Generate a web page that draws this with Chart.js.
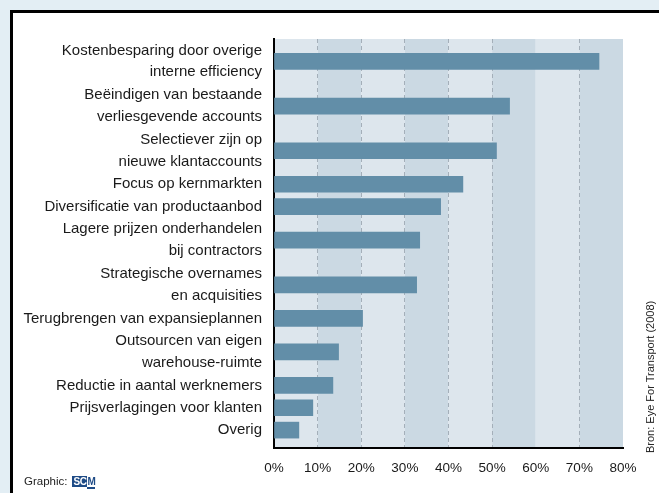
<!DOCTYPE html>
<html>
<head>
<meta charset="utf-8">
<script src="https://cdn.jsdelivr.net/npm/chart.js@4/dist/chart.umd.min.js"></script>
<style>
  body { margin: 0; width: 659px; height: 493px; overflow: hidden; position: relative; background: #e3eef4; }
  #frame { position: absolute; left: 10px; top: 10px; width: 700px; height: 520px; background: #fff;
           border-top: 3px solid #000; border-left: 3px solid #000; }
  #chart { position: absolute; left: 0; top: 0; }
  #graphic { position: absolute; left: 24px; top: 475px; font: 11.5px "Liberation Sans", sans-serif; color: #222; }
  #graphic .logo { display: inline-block; margin-left: 5px; font-weight: bold; font-size: 10px; line-height: 10px; letter-spacing: -0.5px; }
  #graphic .sc { background: #1e4b86; color: #fff; padding: 0 1px; }
  #graphic .m { color: #1e4b86; border-bottom: 2px solid #1e4b86; }
  #source { position: absolute; left: 643px; top: 453px; transform-origin: 0 0; transform: rotate(-90deg);
            white-space: nowrap; font: 11px "Liberation Sans", sans-serif; color: #222; line-height: 14px; }
</style>
</head>
<body>
<div id="frame"></div>
<canvas id="chart" width="659" height="493"></canvas>
<div id="graphic">Graphic:<span class="logo"><span class="sc">SC</span><span class="m">M</span></span></div>
<div id="source">Bron: Eye For Transport (2008)</div>
<script>
// categories, top to bottom (multi-line labels as arrays)
var categories = [
    ["Kostenbesparing door overige", "interne efficiency"],
    ["Beëindigen van bestaande", "verliesgevende accounts"],
    ["Selectiever zijn op", "nieuwe klantaccounts"],
    "Focus op kernmarkten",
    "Diversificatie van productaanbod",
    ["Lagere prijzen onderhandelen", "bij contractors"],
    ["Strategische overnames", "en acquisities"],
    "Terugbrengen van expansieplannen",
    ["Outsourcen van eigen", "warehouse-ruimte"],
    "Reductie in aantal werknemers",
    "Prijsverlagingen voor klanten",
    "Overig"
];
var percentages = [74.5, 54, 51, 43.3, 38.2, 33.4, 32.7, 20.3, 14.8, 13.5, 8.9, 5.7];
var tickValues = [0, 10, 20, 30, 40, 50, 60, 70, 80];

// each category takes as many rows as its label has lines
var slots = [];
var lineCount = 0;
categories.forEach(function(c) {
    var n = Array.isArray(c) ? c.length : 1;
    slots.push(lineCount + (n - 1) / 2);
    lineCount += n;
});

var bands = {
    id: 'bands',
    beforeDraw: function(chart) {
        var c = chart.ctx, a = chart.chartArea, xs = chart.scales.x;
        for (var i = 0; i < tickValues.length - 1; i++) {
            var x0 = xs.getPixelForValue(tickValues[i]);
            var x1 = xs.getPixelForValue(tickValues[i + 1]);
            c.fillStyle = i % 2 ? '#cbd9e3' : '#dde6ed';
            c.fillRect(x0, a.top, x1 - x0, a.bottom - a.top);
        }
    }
};

var ctx = document.getElementById("chart");
var myChart = new Chart(ctx, {
    type: 'bar',
    data: {
        datasets: [{
            data: percentages.map(function(v, i) { return {x: v, y: slots[i]}; }),
            backgroundColor: '#628ea8',
            barThickness: 16
        }]
    },
    options: {
        indexAxis: 'y',
        responsive: false,
        devicePixelRatio: 1,
        animation: false,
        layout: { padding: { top: 39, right: 36, left: 0, bottom: 0 } },
        plugins: { legend: { display: false }, tooltip: { enabled: false } },
        scales: {
            x: {
                type: 'linear',
                min: 0,
                max: 80,
                offset: false,
                afterFit: function(s) { s.height = 45; },
                afterBuildTicks: function(s) { s.ticks = tickValues.map(function(v) { return {value: v}; }); },
                ticks: {
                    callback: function(v) { return v + '%'; },
                    color: '#1a1a1a',
                    padding: 12,
                    font: { family: '"Liberation Sans", sans-serif', size: 13.5 }
                },
                grid: {
                    drawTicks: false,
                    offset: false,
                    lineWidth: 1,
                    color: function(c) {
                        var v = c.tick ? c.tick.value : 0;
                        return (v === 0 || v === 60 || v === 80) ? 'rgba(0,0,0,0)' : '#a4afb9';
                    }
                },
                border: { display: true, color: '#000', width: 2, dash: [4, 3] }
            },
            y: {
                type: 'linear',
                reverse: true,
                offset: false,
                bounds: 'data',
                min: -0.5,
                max: lineCount - 0.2,
                afterFit: function(s) { s.width = 274; },
                afterBuildTicks: function(s) { s.ticks = slots.map(function(v) { return {value: v}; }); },
                ticks: {
                    autoSkip: false,
                    callback: function(v, i) { return categories[i]; },
                    color: '#1a1a1a',
                    padding: 12,
                    font: { family: '"Liberation Sans", Arial, sans-serif', size: 15, lineHeight: 1.45 }
                },
                grid: { display: false, drawTicks: false, offset: false },
                border: { display: true, color: '#000', width: 2 }
            }
        }
    },
    plugins: [bands]
});
</script>
</body>
</html>
